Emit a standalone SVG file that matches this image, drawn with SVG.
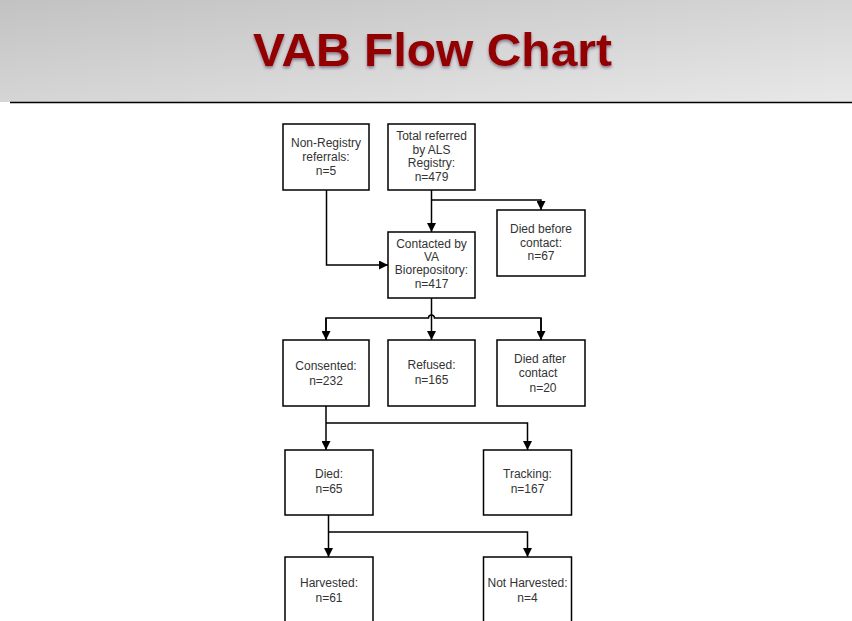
<svg xmlns="http://www.w3.org/2000/svg" width="852" height="621" viewBox="0 0 852 621">
<defs>
<linearGradient id="hdr" x1="0" y1="0" x2="1" y2="1">
<stop offset="0" stop-color="#c2c2c2"/>
<stop offset="1" stop-color="#e8e8e8"/>
</linearGradient>
<filter id="shadow" x="-10%" y="-20%" width="120%" height="150%">
<feDropShadow dx="0" dy="2" stdDeviation="1.5" flood-color="#4a2a4a" flood-opacity="0.55"/>
</filter>
<marker id="arr" viewBox="0 0 10 10" refX="10" refY="5" markerWidth="9" markerHeight="9" markerUnits="userSpaceOnUse" orient="auto">
<path d="M0,0 L10,5 L0,10 Z" fill="#000"/>
</marker>
</defs>
<style>
.box{fill:#fff;stroke:#000;stroke-width:1.5}
.t{font-family:"Liberation Sans",Arial,sans-serif;font-size:12px;fill:#333;text-anchor:middle}
.c{fill:none;stroke:#000;stroke-width:1.5}
</style>
<rect width="852" height="621" fill="#fff"/>
<rect x="0" y="0" width="852" height="102" fill="url(#hdr)"/>
<line x1="10" y1="102.5" x2="852" y2="102.5" stroke="#000" stroke-width="1.5"/>
<text x="432.5" y="66" font-family="Liberation Sans,Arial,sans-serif" font-size="47" font-weight="bold" fill="#920000" text-anchor="middle" textLength="359" lengthAdjust="spacingAndGlyphs" filter="url(#shadow)">VAB Flow Chart</text>

<g id="connectors">
<path class="c" d="M431.5,190 V232" marker-end="url(#arr)"/>
<path class="c" d="M431.5,200 H541 V210" marker-end="url(#arr)" stroke-width="2"/>
<path class="c" d="M326.5,190 V265 H388" marker-end="url(#arr)"/>
<path class="c" d="M431.5,298 V340" marker-end="url(#arr)"/>
<path class="c" d="M326,340 V318 H428.5 A3,3 0 0 1 434.5,318 H541 V340"/>
<path class="c" d="M326,318 V340" marker-end="url(#arr)"/>
<path class="c" d="M541,318 V340" marker-end="url(#arr)"/>
<path class="c" d="M326,406 V450" marker-end="url(#arr)"/>
<path class="c" d="M326,423 H527.5 V450" marker-end="url(#arr)"/>
<path class="c" d="M328.5,515 V557" marker-end="url(#arr)"/>
<path class="c" d="M328.5,532 H527.5 V557" marker-end="url(#arr)"/>
</g>

<g id="nonregistry">
<rect class="box" x="283" y="124" width="86" height="66"/>
<text class="t" x="326" y="147">Non-Registry</text>
<text class="t" x="326" y="161">referrals:</text>
<text class="t" x="326" y="175">n=5</text>
</g>
<g id="total">
<rect class="box" x="388" y="124" width="87" height="66"/>
<text class="t" x="431.5" y="140">Total referred</text>
<text class="t" x="431.5" y="153.5">by ALS</text>
<text class="t" x="431.5" y="167">Registry:</text>
<text class="t" x="431.5" y="180.5">n=479</text>
</g>
<g id="diedbefore">
<rect class="box" x="497" y="210" width="88" height="66"/>
<text class="t" x="541" y="233">Died before</text>
<text class="t" x="541" y="246.5">contact:</text>
<text class="t" x="541" y="260">n=67</text>
</g>
<g id="contacted">
<rect class="box" x="388" y="232" width="87" height="66"/>
<text class="t" x="431.5" y="247.5">Contacted by</text>
<text class="t" x="431.5" y="261">VA</text>
<text class="t" x="431.5" y="274">Biorepository:</text>
<text class="t" x="431.5" y="287.5">n=417</text>
</g>
<g id="consented">
<rect class="box" x="283" y="340" width="86" height="66"/>
<text class="t" x="326" y="370">Consented:</text>
<text class="t" x="326" y="385">n=232</text>
</g>
<g id="refused">
<rect class="box" x="388" y="340" width="87" height="66"/>
<text class="t" x="431.5" y="369">Refused:</text>
<text class="t" x="431.5" y="384">n=165</text>
</g>
<g id="diedafter">
<rect class="box" x="497" y="340" width="88" height="66"/>
<text class="t" x="540" y="362.5">Died after</text>
<text class="t" x="538" y="376.5">contact</text>
<text class="t" x="543" y="392">n=20</text>
</g>
<g id="died">
<rect class="box" x="285" y="450" width="88" height="65"/>
<text class="t" x="329" y="478">Died:</text>
<text class="t" x="329" y="493">n=65</text>
</g>
<g id="tracking">
<rect class="box" x="483.5" y="450" width="88" height="65"/>
<text class="t" x="527.5" y="478">Tracking:</text>
<text class="t" x="527.5" y="493">n=167</text>
</g>
<g id="harvested">
<rect class="box" x="285" y="557" width="88" height="70"/>
<text class="t" x="329" y="587">Harvested:</text>
<text class="t" x="329" y="602">n=61</text>
</g>
<g id="notharvested">
<rect class="box" x="483.5" y="557" width="88" height="70"/>
<text class="t" x="527.5" y="587">Not Harvested:</text>
<text class="t" x="527.5" y="602">n=4</text>
</g>
</svg>
